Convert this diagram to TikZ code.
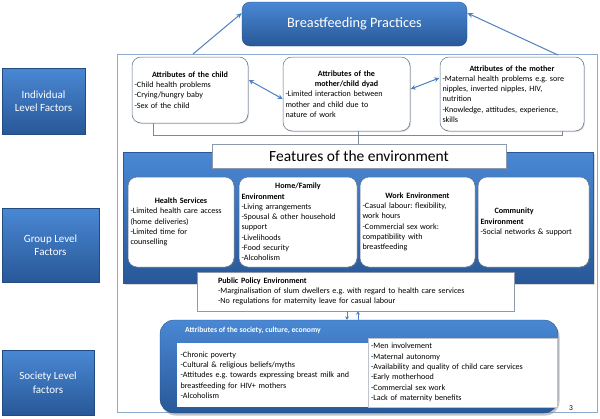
\documentclass[tikz,border=0pt]{standalone}
\usepackage{fontspec}
\setmainfont{Carlito}
\usetikzlibrary{arrows.meta,calc,shadows}
\definecolor{bluetop}{HTML}{4A88D4}
\definecolor{bluebot}{HTML}{285898}
\definecolor{framecol}{HTML}{8FAAD0}
\definecolor{arrcol}{HTML}{4F80C0}
\definecolor{edgecol}{HTML}{5C6C84}
\begin{document}
\begin{tikzpicture}[x=1pt,y=-1pt,
  txt/.style={font=\fontsize{8.1}{10.3}\selectfont\frenchspacing},
  bluebox/.style={rounded corners=6pt, top color=bluetop, bottom color=bluebot, draw=bluebot!85!black, line width=0.3pt, text=white, align=center, inner sep=0pt},
  sidebox/.style={bluebox, rounded corners=0pt, font=\fontsize{11}{13.5}\selectfont},
  whitebox/.style={txt, rounded corners=9pt, fill=white, draw=edgecol, line width=0.5pt, align=left, inner xsep=2.5pt, inner ysep=0pt, drop shadow={opacity=0.25, shadow xshift=1pt, shadow yshift=-1pt}},
  plainbox/.style={txt, fill=white, draw=edgecol!70, line width=0.4pt, align=left, inner xsep=0pt, inner ysep=0pt, drop shadow={opacity=0.3, shadow xshift=1.2pt, shadow yshift=-1.2pt}},
  arr/.style={draw=arrcol, line width=1pt, -{Stealth[length=6pt,width=5pt]}},
  darr/.style={draw=arrcol, line width=1pt, {Stealth[length=5pt,width=5pt]}-{Stealth[length=5pt,width=5pt]}},
  sarr/.style={draw=arrcol, line width=0.8pt, -{Stealth[length=3.5pt,width=4pt]}},
  conn/.style={draw=edgecol!80, line width=0.5pt},
]
\useasboundingbox (0,0) rectangle (600,418);

% outer frame
\draw[framecol, line width=0.7pt] (117,54) rectangle (597,412);

% left level labels
\node[sidebox, minimum width=83pt, minimum height=66pt] (ind) at (43.5,101) {Individual\\Level Factors};
\node[sidebox, minimum width=97pt, minimum height=74pt] (grp) at (50.5,245) {Group Level\\Factors};
\node[sidebox, minimum width=92pt, minimum height=65pt] (soclab) at (48,382.5) {Society Level\\factors};

% top
\node[bluebox, rounded corners=8pt, minimum width=225pt, minimum height=44pt, font=\fontsize{14.3}{16}\selectfont] (bp) at (354.5,24) {Breastfeeding Practices};

% connector joining the three attribute boxes
\coordinate (j1) at (153,135);
\coordinate (j2) at (562,135);
\coordinate (jm) at (358.5,135);

% features region
\node[rectangle, top color=bluetop, bottom color=bluebot, draw=bluebot, line width=0.3pt, minimum width=470pt, minimum height=131pt, inner sep=0pt, drop shadow={opacity=0.3, shadow xshift=1.5pt, shadow yshift=-1.5pt}] (featreg) at (358,217.5) {};

% attribute boxes
\node[whitebox, minimum width=116pt, minimum height=66pt, text width=111pt] (child) at (190,90)
 {\makebox[\linewidth]{\textbf{Attributes of the child}}\\-Child health problems\\-Crying/hungry baby\\-Sex of the child};
\node[whitebox, minimum width=127pt, minimum height=74pt, text width=122pt] (dyad) at (346.5,94)
 {\makebox[\linewidth]{\textbf{Attributes of the}}\\\makebox[\linewidth]{\textbf{mother/child dyad}}\\-Limited interaction between\\mother and child due to\\nature of work};
\node[whitebox, minimum width=144pt, minimum height=74pt, text width=139pt] (mother) at (512,94)
 {\makebox[\linewidth]{\textbf{Attributes of the mother}}\\-Maternal health problems e.g. sore\\nipples, inverted nipples, HIV,\\nutrition\\-Knowledge, attitudes, experience,\\skills};

% features title
\node[plainbox, minimum width=294pt, minimum height=24pt, align=center, font=\fontsize{15.5}{17}\selectfont] (feat) at (359,156) {Features of the environment};

\draw[conn] (child.south -| j1) -- (j1) -- (j2) -- (mother.south -| j2);
\draw[conn] (dyad.south -| jm) -- (feat.north -| jm);

% environment boxes
\node[whitebox, minimum width=106pt, minimum height=90pt, text width=101pt] (health) at (181,222)
 {\makebox[\linewidth]{\textbf{Health Services}}\\-Limited health care access\\(home deliveries)\\-Limited time for\\counselling};
\node[whitebox, minimum width=118pt, minimum height=90pt, text width=113pt] (home) at (298,222)
 {\makebox[\linewidth]{\textbf{Home/Family}}\\\textbf{Environment}\\-Living arrangements\\-Spousal \& other household\\support\\-Livelihoods\\-Food security\\-Alcoholism};
\node[whitebox, minimum width=115pt, minimum height=90pt, text width=110pt] (work) at (417.5,222)
 {\makebox[\linewidth]{\textbf{Work Environment}}\\-Casual labour: flexibility,\\work hours\\-Commercial sex work:\\compatibility with\\breastfeeding};
\node[whitebox, minimum width=111pt, minimum height=90pt, text width=106pt] (comm) at (533.5,222)
 {\hspace*{14pt}\textbf{Community}\\\textbf{Environment}\\-Social networks \& support};

% public policy
\node[plainbox, minimum width=317pt, minimum height=39pt, inner xsep=21pt, text width=275pt] (pp) at (355.5,291.5)
 {\textbf{Public Policy Environment}\\-Marginalisation of slum dwellers e.g. with regard to health care services\\-No regulations for maternity leave for casual labour};

% society
\node[bluebox, rounded corners=14pt, minimum width=398pt, minimum height=93pt, drop shadow={opacity=0.45, shadow xshift=1.5pt, shadow yshift=-2.5pt}] (soc) at (359,366.5) {};
\node[text=white, anchor=west, inner sep=0pt, font=\fontsize{7.7}{9}\selectfont\bfseries\frenchspacing] (soctitle) at (185,330) {Attributes of the society, culture, economy};
\node[txt, fill=white, align=left, minimum width=191pt, minimum height=64pt, text width=184pt, inner xsep=3.5pt, inner ysep=0pt] (socl) at (272.5,375)
 {-Chronic poverty\\-Cultural \& religious beliefs/myths\\-Attitudes e.g. towards expressing breast milk and\\breastfeeding for HIV+ mothers\\-Alcoholism};
\node[txt, fill=white, draw=edgecol!40, line width=0.3pt, align=left, minimum width=189pt, minimum height=69pt, text width=183pt, inner xsep=3pt, inner ysep=0pt] (socr) at (462.5,372.5)
 {-Men involvement\\-Maternal autonomy\\-Availability and quality of child care services\\-Early motherhood\\-Commercial sex work\\-Lack of maternity benefits};

% arrows
\coordinate (a1) at (193,54);
\coordinate (a2) at (558,55);
\draw[arr] (a1) -- ($(bp.west)+(0,-11)$);
\draw[arr] (a2) -- ($(bp.east)+(0,-11)$);
\draw[darr] ($(child.east)+(0.5,-10)$) -- ($(dyad.west)+(0,5)$);
\draw[darr] ($(dyad.east)+(0.5,-5)$) -- ($(mother.west)+(-0.5,-16)$);
\draw[sarr] ([xshift=-8.5pt]pp.south) -- ([xshift=-8.5pt]pp.south |- soc.north);
\draw[sarr] ([xshift=2.5pt]pp.south |- soc.north) -- ([xshift=2.5pt]pp.south);

\node[font=\fontsize{7.5}{9}\selectfont, inner sep=0pt] (pg) at (571,408) {3};
\end{tikzpicture}
\end{document}
